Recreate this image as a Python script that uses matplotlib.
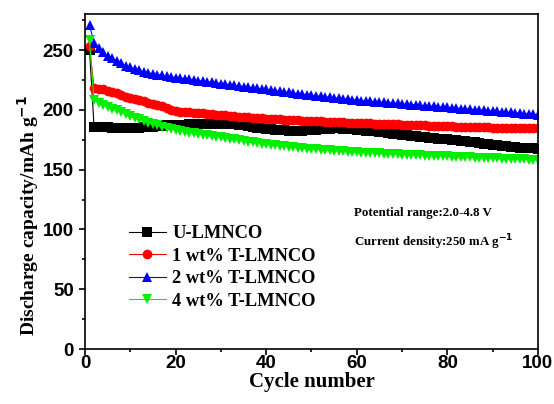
import numpy as np
import matplotlib
matplotlib.use('Agg')
import matplotlib.pyplot as plt
from matplotlib.ticker import MultipleLocator

cycles = np.arange(1, 101)

# discharge capacity (mAh/g), one value per cycle
u_lmnco = [
    250, 186, 186, 185.5, 185.5, 185, 185, 185, 185, 185,
    185, 185.2, 185.5, 185.8, 186, 186.3, 186.6, 187, 187.2, 187.4,
    187.5, 187.6, 187.8, 188, 188, 188.2, 188.3, 188.3, 188.4, 188.4,
    188.3, 188.2, 188, 187.5, 187, 186.3, 185.6, 185, 184.5, 184,
    183.6, 183.3, 183, 182.8, 182.6, 182.5, 182.5, 182.6, 182.8, 183,
    183.3, 183.7, 184, 184.3, 184.5, 184.5, 184.3, 184, 183.6, 183.2,
    182.8, 182.5, 182.2, 181.9, 181.6, 181.2, 180.7, 180.2, 179.6, 179,
    178.6, 178.2, 177.8, 177.5, 177.2, 176.8, 176.4, 176, 175.6, 175.2,
    174.8, 174.4, 174, 173.6, 173.2, 172.7, 172.2, 171.7, 171.2, 170.7,
    170.3, 169.9, 169.5, 169.1, 168.8, 168.5, 168.2, 168, 167.8, 167.6,
]
t1_lmnco = [
    253, 218, 217.5, 217, 216, 215, 214, 212.5, 211, 210,
    209, 208, 207, 206, 205, 204, 203, 201.5, 200, 199,
    198.5, 198, 197.8, 197.5, 197.2, 197, 196.6, 196.3, 196, 195.6,
    195.3, 195, 194.7, 194.4, 194, 193.8, 193.5, 193.2, 193, 192.7,
    192.5, 192.3, 192, 191.8, 191.6, 191.4, 191.2, 191, 190.8, 190.6,
    190.5, 190.3, 190.2, 190, 189.9, 189.7, 189.6, 189.4, 189.3, 189.1,
    189, 188.8, 188.7, 188.5, 188.4, 188.2, 188.1, 187.9, 187.8, 187.6,
    187.5, 187.3, 187.2, 187, 186.9, 186.8, 186.6, 186.5, 186.4, 186.2,
    186.1, 186, 185.9, 185.8, 185.7, 185.6, 185.5, 185.4, 185.3, 185.2,
    185.1, 185, 185, 184.9, 184.8, 184.8, 184.7, 184.6, 184.6, 184.5,
]
t2_lmnco = [
    271, 256, 252, 248, 245, 243, 241, 239, 237, 235.5,
    234, 233, 232, 231, 230, 229.5, 229, 228, 227.5, 227,
    226.5, 226, 225.5, 225, 224.5, 224, 223.5, 223, 222.5, 222,
    221.5, 221, 220.5, 220, 219.5, 219, 218.5, 218, 217.5, 217,
    216.5, 216, 215.5, 215, 214.5, 214, 213.5, 213, 212.5, 212,
    211.6, 211.2, 210.8, 210.4, 210, 209.6, 209.2, 208.8, 208.4, 208,
    207.7, 207.4, 207.1, 206.8, 206.5, 206.2, 205.9, 205.6, 205.3, 205,
    204.7, 204.4, 204.1, 203.8, 203.5, 203.2, 202.9, 202.6, 202.3, 202,
    201.7, 201.4, 201.1, 200.8, 200.5, 200.2, 199.9, 199.6, 199.3, 199,
    198.7, 198.4, 198.1, 197.8, 197.5, 197.2, 196.9, 196.6, 196.3, 196,
]
t4_lmnco = [
    258, 208, 206, 204, 202.5, 201, 199.5, 198, 196.5, 195,
    193.5, 192, 190.5, 189, 188, 187, 186, 185, 184, 183,
    182.3, 181.6, 181, 180.4, 179.8, 179.2, 178.6, 178, 177.5, 177,
    176.4, 175.8, 175.2, 174.6, 174, 173.4, 172.8, 172.3, 171.8, 171.3,
    170.8, 170.4, 170, 169.6, 169.2, 168.8, 168.4, 168, 167.6, 167.2,
    167, 166.7, 166.4, 166.1, 165.8, 165.5, 165.2, 165, 164.7, 164.5,
    164.3, 164.1, 163.9, 163.7, 163.5, 163.3, 163.1, 162.9, 162.8, 162.6,
    162.5, 162.3, 162.2, 162, 161.8, 161.6, 161.4, 161.2, 161.1, 161,
    160.8, 160.6, 160.5, 160.3, 160.2, 160, 159.9, 159.7, 159.6, 159.5,
    159.4, 159.2, 159.1, 159, 158.8, 158.7, 158.6, 158.4, 158.2, 158,
]

labels = ['U-LMNCO', '1 wt% T-LMNCO', '2 wt% T-LMNCO', '4 wt% T-LMNCO']
colors = ['black', 'red', 'blue', '#00ee00']
markers = ['s', 'o', '^', 'v']

serif = 'Liberation Serif'
sans = 'Liberation Sans'

fig = plt.figure(figsize=(5.54, 4.04), dpi=100)
ax = fig.add_axes([0.1534, 0.136, 0.8176, 0.829])

for y, lab, c, m in zip([u_lmnco, t1_lmnco, t2_lmnco, t4_lmnco], labels, colors, markers):
    ax.plot(cycles, y, color=c, marker=m, markersize=7, lw=0.8,
            markeredgewidth=0, label=lab)

ax.set_xlim(0, 100)
ax.set_ylim(0, 280)
ax.xaxis.set_major_locator(MultipleLocator(20))
ax.xaxis.set_minor_locator(MultipleLocator(10))
ax.yaxis.set_major_locator(MultipleLocator(50))
ax.yaxis.set_minor_locator(MultipleLocator(25))
ax.tick_params(which='both', direction='out', width=1.2)
ax.tick_params(which='major', length=4.5)
ax.tick_params(which='minor', length=2.5)
ax.tick_params(axis='x', pad=0)
for lbl in ax.get_xticklabels() + ax.get_yticklabels():
    lbl.set_fontfamily(sans)
    lbl.set_fontweight('bold')
    lbl.set_fontsize(13.5)
for s in ax.spines.values():
    s.set_linewidth(1.2)

ax.set_xlabel('Cycle number', fontfamily=serif, fontweight='bold', fontsize=15, labelpad=0)
ax.set_ylabel('Discharge capacity/mAh g$^{\\mathbf{-1}}$', fontfamily=serif,
              fontweight='bold', fontsize=14)
ax.yaxis.set_label_coords(-0.097, 0.40)

leg = ax.legend(loc='lower left', bbox_to_anchor=(0.06, 0.068), frameon=False,
                prop={'family': serif, 'weight': 'bold', 'size': 13.3},
                handlelength=2.0, labelspacing=0.3, handletextpad=0.35)

ax.text(0.595, 0.397, 'Potential range:2.0-4.8 V', transform=ax.transAxes,
        fontfamily=serif, fontweight='bold', fontsize=9.3)
ax.text(0.595, 0.308, 'Current density:250 mA g$^{\\mathbf{-1}}$', transform=ax.transAxes,
        fontfamily=serif, fontweight='bold', fontsize=9.3)

fig.savefig('out.png', dpi=100)
